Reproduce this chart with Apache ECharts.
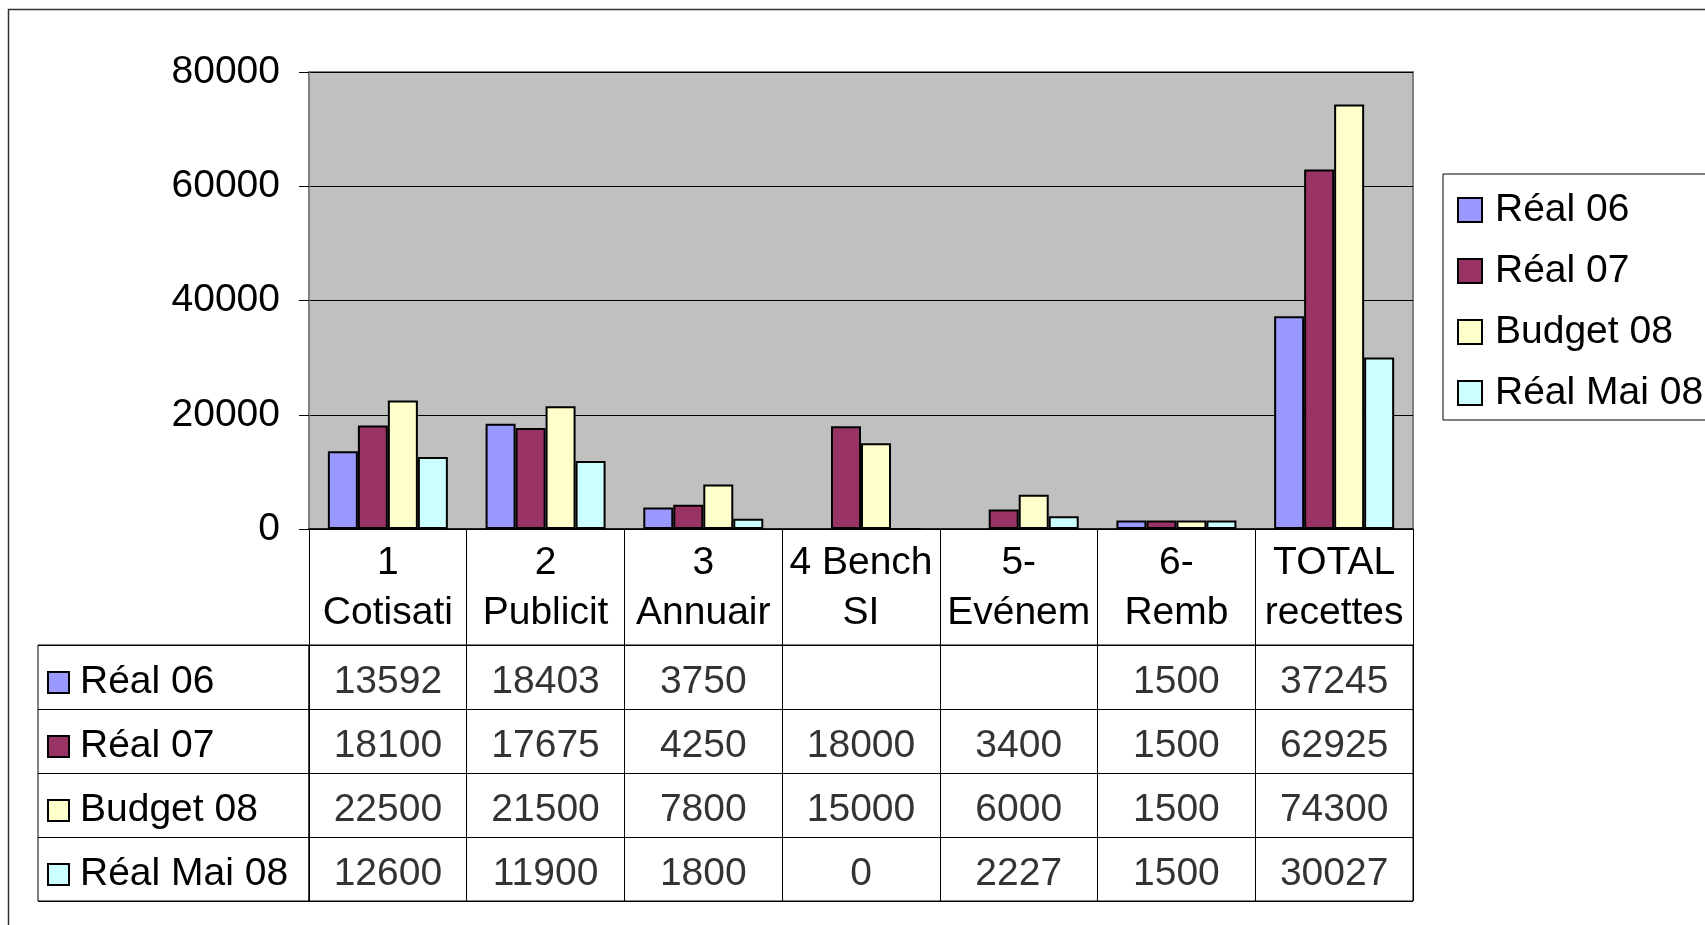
<!DOCTYPE html>
<html>
<head>
<meta charset="utf-8">
<script src="https://cdn.jsdelivr.net/npm/echarts@6/dist/echarts.min.js"></script>
<style>
  html, body { margin: 0; padding: 0; background: #fff; }
  #chart { width: 1705px; height: 925px; }
</style>
</head>
<body>
<div id="chart"></div>
<script>
// categories (x axis) and series
var categories = ["1\nCotisati", "2\nPublicit", "3\nAnnuair", "4 Bench\nSI", "5-\nEvénem", "6-\nRemb", "TOTAL\nrecettes"];
var seriesNames = ["Réal 06", "Réal 07", "Budget 08", "Réal Mai 08"];
var real06 = [13592, 18403, 3750, null, null, 1500, 37245];
var real07 = [18100, 17675, 4250, 18000, 3400, 1500, 62925];
var budget08 = [22500, 21500, 7800, 15000, 6000, 1500, 74300];
var realMai08 = [12600, 11900, 1800, 0, 2227, 1500, 30027];
var yTicks = [0, 20000, 40000, 60000, 80000];

var colors = ["#9999FF", "#993366", "#FFFFCC", "#CCFFFF"];
var allData = [real06, real07, budget08, realMai08];
var font = "Liberation Sans, Arial, sans-serif";
var fs = 39;

// plot area
var plot = { left: 309, top: 72, width: 1104, height: 457 };
var table = { top: 645, height: 256 };

var barSeries = seriesNames.map(function (name, s) {
  return {
    name: name,
    type: "bar",
    xAxisIndex: 0,
    yAxisIndex: 0,
    barWidth: 30,
    barGap: "0%",
    itemStyle: { color: colors[s], borderColor: "#000", borderWidth: 2 },
    data: allData[s]
  };
});

// table values, one scatter per row
var tableSeries = seriesNames.map(function (name, s) {
  var pts = [];
  allData[s].forEach(function (v, i) {
    if (v !== null) pts.push([i, s, v]);
  });
  return {
    type: "scatter",
    xAxisIndex: 1,
    yAxisIndex: 1,
    symbolSize: 1,
    itemStyle: { color: "rgba(0,0,0,0)" },
    silent: true,
    label: {
      show: true,
      position: "inside",
      offset: [0, 5],
      fontFamily: font,
      fontSize: fs,
      color: "#000",
      formatter: function (p) { return String(p.value[2]); }
    },
    data: pts
  };
});

// rich styles for the row header boxes
var rich = {
  sp: { width: 12 },
  t: { fontFamily: font, fontSize: fs, color: "#000" }
};
colors.forEach(function (c, s) {
  rich["b" + s] = { width: 19, height: 19, backgroundColor: c, borderColor: "#000", borderWidth: 2 };
});

var option = {
  animation: false,
  backgroundColor: "#fff",
  textStyle: { fontFamily: font },
  graphic: [{
    type: "rect",
    shape: { x: 8.5, y: 9.5, width: 1800, height: 1000 },
    style: { fill: "none", stroke: "#333", lineWidth: 1.5 },
    silent: true
  }],
  legend: {
    data: seriesNames,
    orient: "vertical",
    left: 1443,
    top: 174,
    padding: [16, 14, 7, 14],
    borderColor: "#000",
    borderWidth: 1,
    icon: "rect",
    itemWidth: 24,
    itemHeight: 24,
    itemGap: 21,
    textStyle: { fontFamily: font, fontSize: fs, color: "#000", lineHeight: 40, padding: [0, 0, 0, 8] }
  },
  grid: [
    { left: plot.left, top: plot.top, width: plot.width, height: plot.height,
      show: true, backgroundColor: "#C0C0C0", borderColor: "#808080", borderWidth: 2 },
    { left: plot.left, top: table.top, width: plot.width, height: table.height,
      show: true, borderColor: "#000", borderWidth: 1 },
    { left: 38, top: table.top, width: plot.left - 38, height: table.height,
      show: true, borderColor: "#000", borderWidth: 1 }
  ],
  xAxis: [
    {
      type: "category", gridIndex: 0, data: categories,
      axisLine: { show: true, lineStyle: { color: "#000", width: 1.5 } },
      axisTick: { show: true, interval: 0, length: table.top - (plot.top + plot.height), lineStyle: { color: "#000", width: 1 } },
      axisLabel: { interval: 0, margin: 9, fontFamily: font, fontSize: fs, color: "#000", lineHeight: 50 }
    },
    {
      type: "category", gridIndex: 1, data: categories,
      axisLine: { show: false }, axisTick: { show: false }, axisLabel: { show: false },
      splitLine: { show: true, interval: 0, lineStyle: { color: "#000", width: 1 } }
    },
    { type: "value", gridIndex: 2, show: false, min: 0, max: 1 }
  ],
  yAxis: [
    {
      type: "value", gridIndex: 0, min: yTicks[0], max: yTicks[yTicks.length - 1], interval: 20000,
      axisLine: { show: true, lineStyle: { color: "#808080", width: 2 } },
      axisTick: { show: true, length: 10, lineStyle: { color: "#000", width: 1 } },
      axisLabel: { margin: 29, fontFamily: font, fontSize: fs, color: "#000",
        formatter: function (v) { return String(v); } },
      splitLine: { show: true, lineStyle: { color: "#000", width: 1 } }
    },
    {
      type: "category", gridIndex: 1, data: seriesNames, inverse: true,
      axisLine: { show: false }, axisTick: { show: false }, axisLabel: { show: false },
      splitLine: { show: true, interval: 0, lineStyle: { color: "#000", width: 1 } }
    },
    {
      type: "category", gridIndex: 2, data: seriesNames, inverse: true,
      axisLine: { show: false }, axisTick: { show: false },
      splitLine: { show: true, interval: 0, lineStyle: { color: "#000", width: 1 } },
      axisLabel: {
        inside: true, margin: 11, align: "left", interval: 0,
        padding: [11, 0, 0, 0],
        formatter: function (v, i) { return "{b" + i + "|}{sp|}{t|" + v + "}"; },
        rich: rich
      }
    }
  ],
  series: barSeries.concat(tableSeries)
};

var myChart = echarts.init(document.getElementById("chart"));
myChart.setOption(option);
</script>
</body>
</html>
